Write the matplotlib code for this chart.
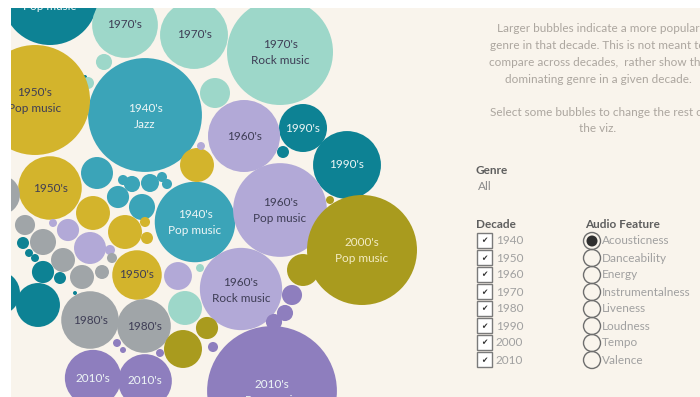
import numpy as np
import matplotlib
matplotlib.use("Agg")
import matplotlib.pyplot as plt
from matplotlib.patches import Circle, Rectangle

plt.rcParams['font.family'] = ['Lato', 'DejaVu Sans']

# ---- data -------------------------------------------------------------
decades = [1940, 1950, 1960, 1970, 1980, 1990, 2000, 2010]
decade_colors = {
    1940: "#3ba4b8", 1950: "#d3b42c", 1960: "#b2a9d7", 1970: "#9dd7c9",
    1980: "#a0a5a8", 1990: "#0d8294", 2000: "#a99b1e", 2010: "#8e7ebe",
}
dark_text_decades = {1950, 1960, 1970, 1980}

# each bubble: decade, genre, popularity (area-scaled)
bubble_decade = [
    1990, 1990, 1990, 1990, 1990, 1990, 1990, 1990, 1990, 1990, 1990, 1990, 1990,
    1940, 1940, 1940, 1940, 1940, 1940, 1940, 1940, 1940, 1940,
    1970, 1970, 1970, 1970, 1970, 1970, 1970, 1970,
    1950, 1950, 1950, 1950, 1950, 1950, 1950, 1950,
    1960, 1960, 1960, 1960, 1960, 1960, 1960, 1960, 1960,
    1980, 1980, 1980, 1980, 1980, 1980, 1980, 1980, 1980,
    2000, 2000, 2000, 2000, 2000, 2000, 2000,
    2010, 2010, 2010, 2010, 2010, 2010, 2010, 2010, 2010, 2010,
]
bubble_genre = [
    "Pop music", "Rock music", "Hip hop", "Jazz", "Blues", "Folk", "Soul", "Country",
    "Funk", "Reggae", "Metal", "Electronic", "R&B",
    "Jazz", "Pop music", "Blues", "Swing", "Folk", "Country", "Gospel", "Soul",
    "Classical", "Latin",
    "Pop music", "Soul", "Rock music", "Folk", "Jazz", "Funk", "Blues", "Country",
    "Pop music", "Rock music", "Jazz", "Country", "Blues", "Folk", "Soul", "Latin",
    "Soul", "Pop music", "Rock music", "Jazz", "Folk", "Country", "Blues", "Funk",
    "Latin",
    "Pop music", "Rock music", "Metal", "Funk", "Soul", "Country", "Jazz", "Folk",
    "Reggae",
    "Pop music", "Rock music", "Hip hop", "Country", "Jazz", "Folk", "Blues",
    "Pop music", "Hip hop", "Rock music", "Country", "Folk", "Jazz", "Soul",
    "Electronic", "Blues", "Latin",
]
bubble_popularity = [
    64, 16, 32, 1.0, 0.11, 1.0, 0.44, 0.44, 3.4, 1.0, 0.11, 13.4, 13.4,
    90, 45, 7.1, 3.4, 0.7, 1.8, 2.25, 0.7, 0.7, 4.7,
    30, 32, 78, 1.8, 1.0, 6.25, 8.0, 0.44,
    84, 28, 17, 8.0, 8.0, 8.0, 0.7, 1.0,
    36, 61, 47, 0.44, 5.4, 3.4, 7.1, 0.44, 0.7,
    23, 20, 11, 2.8, 4.7, 4.0, 4.0, 1.36, 0.7,
    84, 7.1, 10, 3.4, 0.44, 0.44, 0.25,
    117, 22, 20, 2.8, 1.8, 0.7, 1.8, 0.44, 0.25, 0.44,
]

# packed layout (bubble centres on the dashboard canvas)
layout_x = [
    50, 303, 347, 283, 85, 23, 29, 35, 43, 60, 75, 38, -2,
    145, 195, 97, 118, 123, 132, 150, 162, 167, 142,
    125, 194, 280, 104, 88, 215, 185, 200,
    35, 50, 137, 197, 93, 125, 145, 147,
    244, 280, 241, 201, 178, 68, 90, 53, 110,
    90, 144, 0, 25, 43, 63, 82, 102, 112,
    362, 303, 183, 207, 330, 315, 327,
    272, 93, 145, 292, 285, 213, 274, 117, 123, 160,
]
layout_y = [
    -3, 128, 165, 152, 77, 243, 253, 258, 272, 278, 293, 305, 293,
    115, 222, 173, 197, 180, 184, 183, 177, 184, 207,
    25, 35, 52, 62, 83, 93, 308, 268,
    100, 188, 275, 165, 213, 232, 222, 238,
    136, 210, 289, 146, 276, 230, 248, 223, 250,
    320, 326, 195, 225, 242, 260, 277, 272, 258,
    250, 270, 349, 328, 200, 247, 240,
    391, 378, 381, 295, 313, 347, 322, 343, 350, 353,
]

description = [
    "Larger bubbles indicate a more popular",
    "genre in that decade. This is not meant to",
    "compare across decades,  rather show the",
    "dominating genre in a given decade.",
]
instruction = ["Select some bubbles to change the rest of", "the viz."]
genre_filter = "All"
audio_features = ["Acousticness", "Danceability", "Energy", "Instrumentalness",
                  "Liveness", "Loudness", "Tempo", "Valence"]
selected_feature = "Acousticness"

# ---- figure -----------------------------------------------------------
W, H = 700, 397
fig = plt.figure(figsize=(W / 100, H / 100), dpi=100, facecolor="white")
ax = fig.add_axes([0, 0, 1, 1])
ax.set_xlim(0, W)
ax.set_ylim(H, 0)
ax.axis("off")

panel = Rectangle((11, 8), W - 11, H - 8, facecolor="#f9f4ec", edgecolor="none", zorder=0)
ax.add_patch(panel)

RADIUS_SCALE = 6.0
for dec, gen, pop, cx, cy in zip(bubble_decade, bubble_genre, bubble_popularity,
                                  layout_x, layout_y):
    r = RADIUS_SCALE * np.sqrt(pop)
    c = Circle((cx, cy), r, facecolor=decade_colors[dec], edgecolor="none", zorder=2)
    ax.add_patch(c)
    c.set_clip_path(panel)
    if r >= 24:
        tcol = "#3e3d55" if dec in dark_text_decades else "#eef6f6"
        if dec == 2000:
            tcol = "#f3ecc4"
        if r >= 40:
            lines = [(f"{dec}'s", cy - 7), (gen, cy + 9)]
        else:
            lines = [(f"{dec}'s", cy)]
        for txt, ty in lines:
            t = ax.text(cx, ty, txt, ha="center", va="center", fontsize=8.5,
                        color=tcol, zorder=3, clip_on=True)
            t.set_clip_path(panel)

# ---- right-hand panel -------------------------------------------------
TXT = "#aca69f"
for i, line in enumerate(description):
    ax.text(598, 29 + i * 16.7, line, ha="center", va="center", fontsize=8.5, color=TXT)
for i, line in enumerate(instruction):
    ax.text(598, 112 + i * 16.5, line, ha="center", va="center", fontsize=8.5, color=TXT)

ax.text(476, 170, "Genre", ha="left", va="center", fontsize=8.5, color="#5e5e5e",
        fontweight="bold")
ax.text(478, 187, genre_filter, ha="left", va="center", fontsize=8.5, color="#8a8a8a")

ax.text(476, 224, "Decade", ha="left", va="center", fontsize=8.5, color="#5e5e5e",
        fontweight="bold")
ax.text(585, 224, "Audio Feature", ha="left", va="center", fontsize=8.5, color="#5e5e5e",
        fontweight="bold")

ROW0, STEP = 241, 17
for i, dec in enumerate(decades):
    y = ROW0 + i * STEP
    ax.add_patch(Rectangle((477, y - 8), 15, 15, facecolor="white", edgecolor="#7a7a7a",
                           linewidth=1.0, zorder=3))
    ax.text(484.5, y, "\u2714", ha="center", va="center", fontsize=5.5, color="#333333",
            family="DejaVu Sans", zorder=4)
    ax.text(496, y, str(dec), ha="left", va="center", fontsize=8.5, color="#a0a0a0")

for i, feat in enumerate(audio_features):
    y = ROW0 + i * STEP
    ax.add_patch(Circle((592, y), 8.5, facecolor="none", edgecolor="#6e6e6e",
                        linewidth=1.0, zorder=3))
    if feat == selected_feature:
        ax.add_patch(Circle((592, y), 5.5, facecolor="#2f2f2f", edgecolor="none", zorder=4))
    ax.text(602, y, feat, ha="left", va="center", fontsize=8.5, color="#a0a0a0")

fig.savefig("out.png", dpi=100, facecolor="white")
